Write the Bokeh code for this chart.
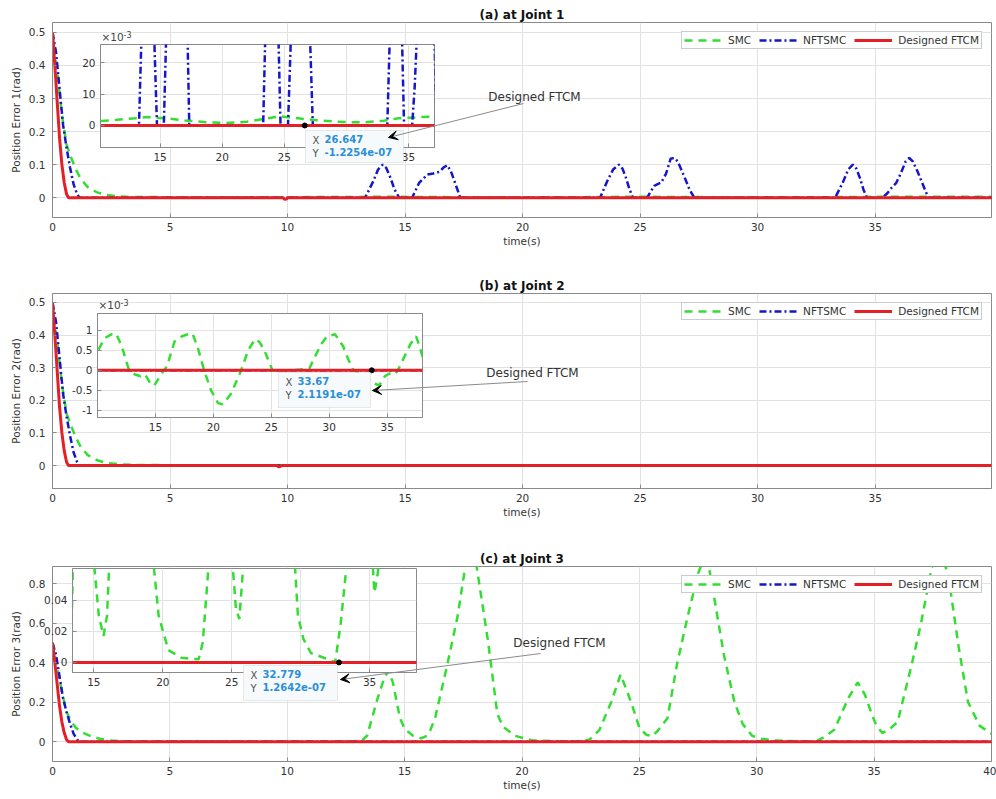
from bokeh.plotting import figure
from bokeh.models import (Range1d, FixedTicker, NumeralTickFormatter, CustomJSTickFormatter,
                          Label, Arrow, VeeHead, BoxAnnotation)
from bokeh.layouts import column
from bokeh.embed import file_html
from bokeh.resources import INLINE

FONT = "DejaVu Sans"

# ---------------- data ----------------
t_ftcm_j1 = [0, 0.1, 0.2, 0.3, 0.4, 0.5, 0.6, 0.68, 9.8, 9.88, 9.95, 10.02, 40]
ftcm_j1 = [0.5, 0.4, 0.29, 0.18, 0.1, 0.045, 0.01, 0, 0, -0.005, -0.004, 0, 0]
t_ftcm_j2 = [0, 0.1, 0.2, 0.3, 0.4, 0.5, 0.6, 0.68, 9.55, 9.62, 9.68, 9.75, 40]
ftcm_j2 = [0.5, 0.4, 0.29, 0.18, 0.1, 0.045, 0.01, 0, 0, -0.004, -0.003, 0, 0]
t_ftcm_j3 = [0, 0.1, 0.2, 0.3, 0.4, 0.5, 0.6, 0.68, 40]
ftcm_j3 = [0.5, 0.4, 0.29, 0.18, 0.1, 0.045, 0.01, 0, 0]

t_nftsmc_j1 = [0, 0.15, 0.3, 0.45, 0.6, 0.75, 0.9, 1.05, 1.15,
               13.3, 13.65, 13.85, 14.05, 14.2, 14.38, 14.55, 14.75,
               15.3, 15.6, 15.95, 16.2, 16.45, 16.65, 16.8, 16.95, 17.15, 17.35,
               23.3, 23.6, 23.85, 24.1, 24.25, 24.4, 24.55, 24.7,
               25.3, 25.6, 25.9, 26.1, 26.3, 26.45, 26.6, 26.9, 27.1, 27.3,
               33.3, 33.65, 33.85, 34.05, 34.2, 34.35, 34.5, 34.65,
               35.3, 35.5, 35.7, 35.9, 36.1, 36.3, 36.45, 36.6, 36.8, 37.0, 37.2, 37.3, 40]
nftsmc_j1 = [0.5, 0.44, 0.33, 0.22, 0.15, 0.09, 0.04, 0.01, 0,
             0, 0.05, 0.085, 0.1, 0.09, 0.06, 0.025, 0,
             0, 0.045, 0.07, 0.073, 0.078, 0.092, 0.098, 0.08, 0.04, 0,
             0, 0.05, 0.085, 0.1, 0.088, 0.06, 0.025, 0,
             0, 0.036, 0.046, 0.072, 0.118, 0.12, 0.11, 0.06, 0.025, 0,
             0, 0.05, 0.085, 0.1, 0.088, 0.06, 0.025, 0,
             0, 0.012, 0.03, 0.045, 0.075, 0.11, 0.12, 0.11, 0.08, 0.045, 0.01, 0, 0]
t_nftsmc = [0, 0.15, 0.3, 0.45, 0.6, 0.75, 0.9, 1.05, 1.15, 40]
nftsmc_j2 = [0.5, 0.44, 0.33, 0.22, 0.15, 0.09, 0.04, 0.01, 0, 0]
nftsmc_j3 = [0.5, 0.44, 0.33, 0.22, 0.15, 0.09, 0.04, 0.01, 0, 0]

t_smc_j1 = [0, 0.2, 0.4, 0.6, 0.8, 1.0, 1.2, 1.5, 1.9, 2.3, 2.8, 3.3,
            5, 8, 10.1, 11.5, 13, 14, 15.5, 17, 18.5, 20.3, 22, 23.5, 24.7, 26.3,
            28, 29.7, 31.4, 33, 34.2, 35.7, 37.6, 40]
smc_j1 = [0.5, 0.38, 0.25, 0.16, 0.12, 0.085, 0.057, 0.032, 0.016, 0.008, 0.004, 0.002,
          0.0015, 0.0012, 0.0014, 0.0018, 0.0023, 0.0027, 0.0023, 0.0016, 0.0011, 0.0008,
          0.0012, 0.0022, 0.0029, 0.0022, 0.0016, 0.0011, 0.001, 0.0015, 0.0023, 0.0026,
          0.003, 0.0025]
t_smc_j2 = [0, 0.2, 0.4, 0.6, 0.8, 1.0, 1.2, 1.5, 1.9, 2.3, 2.8, 3.3, 6, 9,
            10.1, 10.6, 11.2, 11.6, 12.1, 12.65, 13.2, 13.7, 14.1, 14.6,
            14.9, 15.5, 16.0, 16.65, 17.3, 17.8, 18.2, 18.66, 19.2, 19.8,
            20.4, 20.8, 21.5, 22.4, 23.0, 23.6, 24.0, 24.4, 25.1, 25.5,
            26.5, 27.5, 28.3, 28.7, 29.3, 29.8, 30.5, 31.2, 31.6, 32.1,
            33.0, 33.7, 34.3, 34.8, 35.2, 35.7, 36.1, 36.5, 37.0, 37.5,
            37.9, 38.3, 40]
smc_j2 = [0.5, 0.38, 0.25, 0.16, 0.12, 0.085, 0.057, 0.032, 0.016, 0.008, 0.004, 0.002, 0.3e-3, 0.2e-3,
          0.52e-3, 0.8e-3, 0.9e-3, 0.92e-3, 0.6e-3, 0.06e-3, -0.1e-3, -0.15e-3, -0.1e-3, -0.35e-3,
          -0.38e-3, -0.1e-3, 0.1e-3, 0.72e-3, 0.85e-3, 0.9e-3, 0.92e-3, 0.56e-3, 0.0, -0.5e-3,
          -0.82e-3, -0.85e-3, -0.6e-3, 0.0, 0.5e-3, 0.78e-3, 0.7e-3, 0.5e-3, 0.0, -0.02e-3,
          0.0, 0.02e-3, 0.05e-3, 0.3e-3, 0.65e-3, 0.85e-3, 0.9e-3, 0.6e-3, 0.3e-3, 0.0,
          -0.1e-3, -0.3e-3, -0.38e-3, -0.15e-3, -0.08e-3, -0.1e-3, 0.1e-3, 0.35e-3, 0.65e-3, 0.85e-3,
          0.5e-3, 0.1e-3, -0.3e-3]
t_smc_j3 = [0, 0.2, 0.4, 0.6, 0.8, 1.0, 1.3, 1.6, 2.0, 2.5,
            3.0, 5, 8, 11, 12.8, 13.2, 13.4, 13.85, 14.1, 14.3,
            14.5, 14.8, 15.0, 15.36, 15.7, 15.95, 16.1, 16.3, 16.8, 17.25,
            17.55, 17.8, 18.05, 18.55, 18.95, 19.2, 19.7, 20.4, 21.35, 22.6,
            22.9, 23.3, 23.8, 24.2, 24.65, 25.0, 25.3, 25.55, 25.8, 26.2,
            26.6, 27.05, 27.5, 27.85, 28.2, 28.6, 29.05, 29.4, 29.8, 30.2,
            30.75, 32.0, 32.5, 32.9, 33.3, 33.9, 34.3, 34.6, 34.9, 35.1,
            35.35, 35.6, 36.0, 36.6, 37.0, 37.45, 37.8, 38.15, 38.6, 39.0,
            39.5, 40]
smc_j3 = [0.5, 0.38, 0.25, 0.15, 0.1, 0.07, 0.045, 0.03, 0.015, 0.006,
          0.002, 0.001, 0.0008, 0.001, 0.002, 0.008, 0.03, 0.22, 0.31, 0.36,
          0.3, 0.12, 0.065, 0.03, 0.017, 0.03, 0.06, 0.12, 0.38, 0.63,
          0.86, 0.96, 0.9, 0.51, 0.14, 0.075, 0.03, 0.008, 0.003, 0.002,
          0.013, 0.06, 0.2, 0.34, 0.2, 0.07, 0.035, 0.028, 0.058, 0.12,
          0.39, 0.63, 0.85, 0.96, 0.72, 0.44, 0.2, 0.09, 0.03, 0.015,
          0.006, 0.002, 0.0, 0.025, 0.06, 0.22, 0.3, 0.24, 0.14, 0.08,
          0.045, 0.058, 0.1, 0.39, 0.6, 0.88, 0.96, 0.85, 0.48, 0.2,
          0.08, 0.04]

tip_x = [26.647, 33.67, 32.779]
tip_y = [-1.2254e-07, 2.1191e-07, 1.2642e-07]
tip_x_text = ["26.647", "33.67", "32.779"]
tip_y_text = ["-1.2254e-07", "2.1191e-07", "1.2642e-07"]

titles = ["(a) at Joint 1", "(b) at Joint 2", "(c) at Joint 3"]
ylabels = ["Position Error 1(rad)", "Position Error 2(rad)", "Position Error 3(rad)"]
series_names = ["SMC", "NFTSMC", "Designed FTCM"]
x_ticks_ab = [0, 5, 10, 15, 20, 25, 30, 35]
x_ticks_c = [0, 5, 10, 15, 20, 25, 30, 35, 40]
y_ticks_ab = [0, 0.1, 0.2, 0.3, 0.4, 0.5]
y_ticks_c = [0, 0.2, 0.4, 0.6, 0.8]
inset_x_ticks = [15, 20, 25, 30, 35]
inset_y_ticks_a = [0, 0.01, 0.02]
inset_y_ticks_b = [-0.001, -0.0005, 0, 0.0005, 0.001]
inset_y_ticks_c = [0, 0.02, 0.04]
annot_text = "Designed FTCM"

# ---------------- style ----------------
GREEN = "#33dd33"
BLUE = "#1616c8"
RED = "#e41f26"
GRID = "#e2e2e2"
FRAME = "#8a8a8a"
TEXT = "#333333"
TIPBLUE = "#2a8fd6"


def style_axes(p, tick_size, tick_standoff_x, tick_standoff_y):
    for ax in p.axis:
        ax.major_tick_in = 4
        ax.major_tick_out = 0
        ax.minor_tick_in = 0
        ax.minor_tick_out = 0
        ax.axis_line_color = FRAME
        ax.major_tick_line_color = FRAME
        ax.major_label_text_font = FONT
        ax.major_label_text_font_size = tick_size
        ax.major_label_text_color = TEXT
        ax.axis_label_text_font = FONT
        ax.axis_label_text_font_size = "10.5px"
        ax.axis_label_text_font_style = "normal"
        ax.axis_label_text_color = TEXT
    p.xaxis.major_label_standoff = tick_standoff_x
    p.yaxis.major_label_standoff = tick_standoff_y
    p.grid.grid_line_color = GRID
    p.grid.grid_line_width = 1
    p.outline_line_color = FRAME
    p.outline_line_width = 1


def add_series(p, st, sv, nt, nv, rt, rv, legend):
    kw = [dict(legend_label=n) for n in series_names] if legend else [{}, {}, {}]
    p.line(st, sv, line_color=GREEN, line_width=2.5, line_dash="8 6", **kw[0])
    p.line(nt, nv, line_color=BLUE, line_width=2.5, line_dash="7 3 2 3", **kw[1])
    p.line(rt, rv, line_color=RED, line_width=3, **kw[2])


def make_main(i, y_rng, y_ticks, x_hi, x_ticks, bottom, series):
    p = figure(frame_width=939, frame_height=195, x_range=Range1d(0, x_hi), y_range=Range1d(*y_rng),
               output_backend="svg", toolbar_location=None, title=titles[i],
               min_border_left=52, min_border_right=5, min_border_top=22, min_border_bottom=bottom,
               background_fill_color="white", border_fill_color="white")
    add_series(p, *series, legend=True)
    p.xaxis.ticker = FixedTicker(ticks=x_ticks)
    p.xgrid.ticker = FixedTicker(ticks=x_ticks)
    p.yaxis.ticker = FixedTicker(ticks=y_ticks)
    p.ygrid.ticker = FixedTicker(ticks=y_ticks)
    p.xaxis.formatter = NumeralTickFormatter(format="0")
    p.yaxis.formatter = NumeralTickFormatter(format="0.[0]")
    p.xaxis.axis_label = "time(s)"
    p.yaxis.axis_label = ylabels[i]
    p.xaxis.axis_label_standoff = 1
    p.yaxis.axis_label_standoff = 4
    style_axes(p, "10.5px", 5, 7)
    p.title.align = "center"
    p.title.text_font = FONT
    p.title.text_font_size = "12px"
    p.title.text_font_style = "bold"
    p.title.text_color = "#111111"
    p.title.standoff = 1
    lg = p.legend[0]
    lg.location = "top_right"
    lg.orientation = "horizontal"
    lg.label_text_font = FONT
    lg.label_text_font_size = "10.5px"
    lg.label_text_color = TEXT
    lg.glyph_width = 38
    lg.glyph_height = 10
    lg.label_height = 10
    lg.label_standoff = 6
    lg.spacing = 8
    lg.padding = 2
    lg.margin = 9
    lg.border_line_color = "#9a9a9a"
    lg.border_line_width = 1
    lg.background_fill_color = "white"
    lg.background_fill_alpha = 1
    return p


# inset frames in page pixels (l, t, r, b)
INSETS = [
    dict(frame=(100, 44, 434, 147), xr=(10.2, 37.1), yr=(-0.00702, 0.02584),
         yt=inset_y_ticks_a, scaled=True),
    dict(frame=(97, 313, 422, 417), xr=(10.0, 38.05), yr=(-0.00118, 0.00142),
         yt=inset_y_ticks_b, scaled=True),
    dict(frame=(72, 568, 416, 672), xr=(13.45, 38.4), yr=(-0.0065, 0.0606),
         yt=inset_y_ticks_c, scaled=False),
]
IB = (32, 4, 4, 22)   # inset borders (l, t, r, b)


def make_inset(i, series):
    g = INSETS[i]
    fl, ft, fr, fb = g["frame"]
    p = figure(frame_width=fr - fl, frame_height=fb - ft,
               x_range=Range1d(*g["xr"]), y_range=Range1d(*g["yr"]),
               min_border_left=IB[0], min_border_top=IB[1], min_border_right=IB[2],
               min_border_bottom=IB[3], title=None,
               output_backend="svg", toolbar_location=None,
               border_fill_color=None, background_fill_color="white",
               styles={"position": "absolute", "left": f"{fl - IB[0]}px",
                       "top": f"{ft - IB[1]}px", "z-index": "2"})
    add_series(p, *series, legend=False)
    p.xaxis.ticker = FixedTicker(ticks=inset_x_ticks)
    p.xgrid.ticker = FixedTicker(ticks=inset_x_ticks)
    p.yaxis.ticker = FixedTicker(ticks=g["yt"])
    p.ygrid.ticker = FixedTicker(ticks=g["yt"])
    p.xaxis.formatter = NumeralTickFormatter(format="0")
    if g["scaled"]:
        p.yaxis.formatter = CustomJSTickFormatter(code="return String(Math.round(tick * 1e4) / 10);")
    else:
        p.yaxis.formatter = NumeralTickFormatter(format="0.[00]")
    style_axes(p, "10.5px", 5, 5)
    p.scatter([tip_x[i]], [tip_y[i]], size=5, color="black")
    return p


# ---------------- overlay (page-pixel coordinates) for annotations ----------------
ANNOT = [
    dict(box=(305, 130, 403, 162), head=(388, 137), tail=(523, 103), text=(534, 96)),
    dict(box=(278, 372, 370, 407), head=(372, 390), tail=(527, 381), text=(532, 372)),
    dict(box=(243, 665, 337, 700), head=(340, 679), tail=(540, 653), text=(559, 642)),
]
MULT = [(101, 42), (98, 310)]

ov = figure(frame_width=996, frame_height=799, x_range=Range1d(0, 996), y_range=Range1d(799, 0),
            min_border_left=0, min_border_right=0, min_border_top=0, min_border_bottom=0,
            x_axis_type=None, y_axis_type=None, title=None,
            output_backend="svg", toolbar_location=None,
            border_fill_color=None, background_fill_color=None, outline_line_color=None,
            styles={"position": "absolute", "left": "0px", "top": "0px", "z-index": "3"})
ov.grid.visible = False
for i, a in enumerate(ANNOT):
    l, t, r, b = a["box"]
    ov.add_layout(BoxAnnotation(left=l, right=r, top=t, bottom=b, fill_color="#f7fafc", fill_alpha=1,
                                line_color="#b5b5b5", line_width=1))
    for k, (lab, val) in enumerate([("X", tip_x_text[i]), ("Y", tip_y_text[i])]):
        yy = t + 4 + 13 * k
        ov.add_layout(Label(x=l + 7, y=yy, text=lab, text_font=FONT, text_font_size="10px",
                            text_color="#505050", text_align="left", text_baseline="top"))
        ov.add_layout(Label(x=l + 19, y=yy, text=val, text_font=FONT, text_font_size="10px",
                            text_font_style="bold", text_color=TIPBLUE, text_align="left",
                            text_baseline="top"))
    ov.add_layout(Arrow(x_start=a["tail"][0], y_start=a["tail"][1], x_end=a["head"][0],
                        y_end=a["head"][1], line_color="#8a8a8a", line_width=1,
                        end=VeeHead(size=9, fill_color="black", line_color="black", line_width=1)))
    ov.add_layout(Label(x=a["text"][0], y=a["text"][1], text=annot_text, text_font=FONT,
                        text_font_size="12px", text_color=TEXT, text_align="center",
                        text_baseline="middle"))
for (mx, my) in MULT:
    ov.add_layout(Label(x=mx, y=my, text="×10", text_font=FONT, text_font_size="10.5px",
                        text_color="#444444", text_align="left", text_baseline="bottom"))
    ov.add_layout(Label(x=mx + 22, y=my - 5, text="-3", text_font=FONT, text_font_size="8px",
                        text_color="#444444", text_align="left", text_baseline="bottom"))

S1 = (t_smc_j1, smc_j1, t_nftsmc_j1, nftsmc_j1, t_ftcm_j1, ftcm_j1)
S2 = (t_smc_j2, smc_j2, t_nftsmc, nftsmc_j2, t_ftcm_j2, ftcm_j2)
S3 = (t_smc_j3, smc_j3, t_nftsmc, nftsmc_j3, t_ftcm_j3, ftcm_j3)

pa = make_main(0, (-0.06, 0.53), y_ticks_ab, 39.95, x_ticks_ab, 54, S1)
pb = make_main(1, (-0.0705, 0.5276), y_ticks_ab, 39.95, x_ticks_ab, 56, S2)
pc = make_main(2, (-0.1, 0.886), y_ticks_c, 40, x_ticks_c, 38, S3)

ia = make_inset(0, S1)
ib = make_inset(1, S2)
ic = make_inset(2, S3)

mains = column(pa, pb, pc, spacing=0)

open("out.html", "w").write(file_html([mains, ia, ib, ic, ov], INLINE))
